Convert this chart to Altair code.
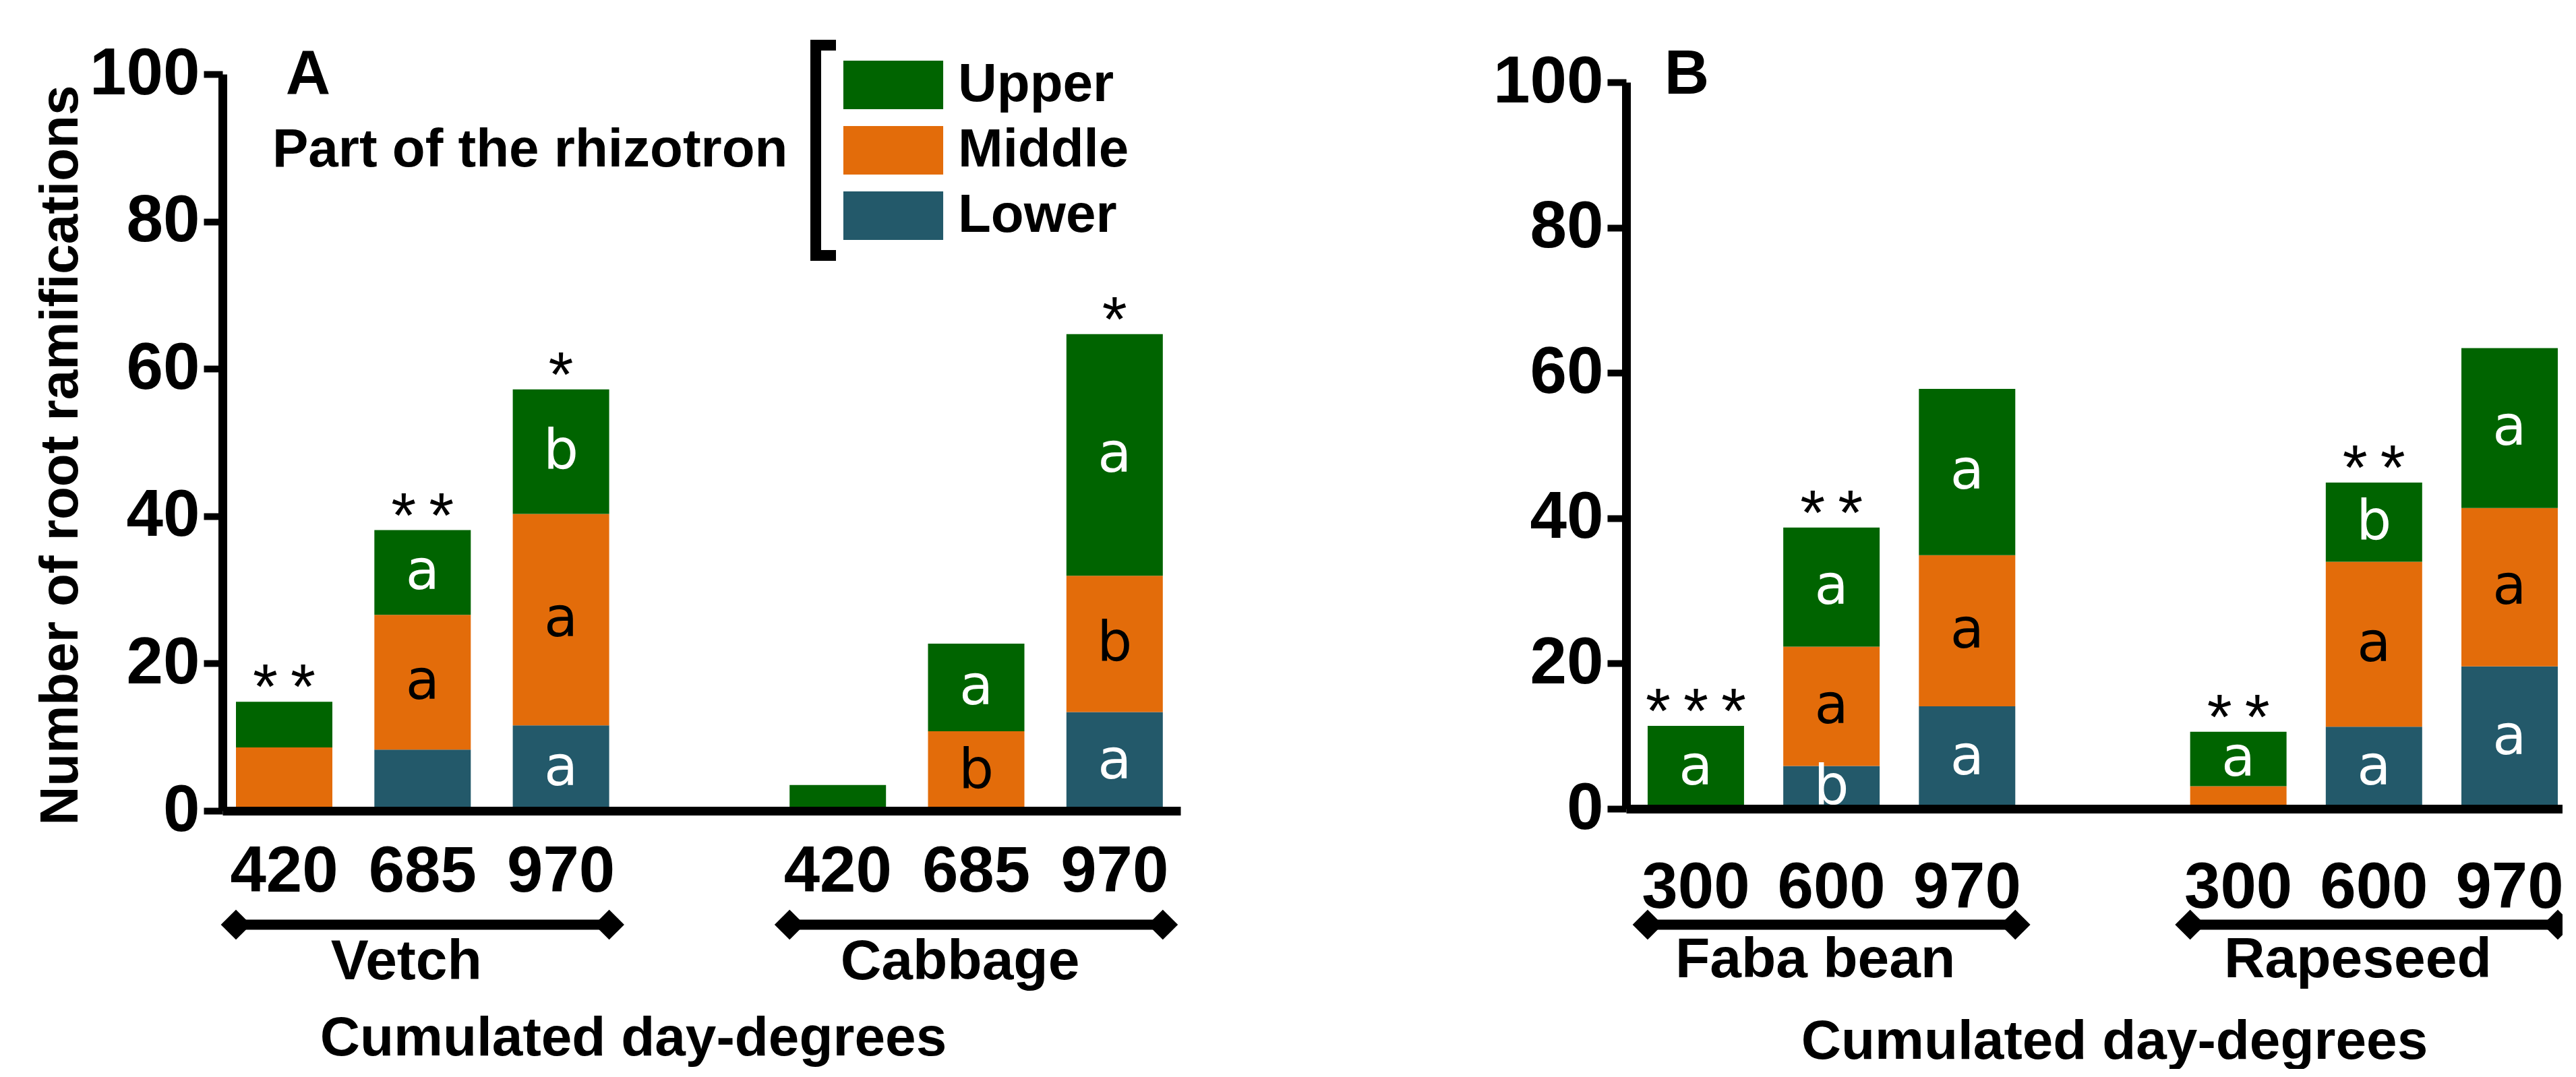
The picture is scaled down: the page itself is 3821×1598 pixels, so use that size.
import altair as alt
import pandas as pd

FONT = "Liberation Sans"
LETTER_FONT = "DejaVu Sans"

PARTS = ["Upper", "Middle", "Lower"]
PART_COLORS = ["#006400", "#E36C0A", "#23596A"]

# ---------------- Panel A ----------------
A_GROUPS = ["Vetch", "Cabbage"]
A_DD = ["420", "685", "970"]
A_UPPER = [6.2, 11.5, 16.9, 3.5, 11.9, 32.8]
A_MIDDLE = [8.6, 18.3, 28.7, 0.0, 10.8, 18.5]
A_LOWER = [0.0, 8.3, 11.6, 0.0, 0.0, 13.4]
A_LET_UPPER = ["", "a", "b", "", "a", "a"]
A_LET_MIDDLE = ["", "a", "a", "", "b", "b"]
A_LET_LOWER = ["", "", "a", "", "", "a"]
A_STARS = ["*\u2009*", "*\u2009*", "*", "", "", "*"]

# ---------------- Panel B ----------------
B_GROUPS = ["Faba bean", "Rapeseed"]
B_DD = ["300", "600", "970"]
B_UPPER = [11.4, 16.4, 22.9, 7.5, 10.9, 22.0]
B_MIDDLE = [0.0, 16.4, 20.8, 3.1, 22.7, 21.8]
B_LOWER = [0.0, 5.9, 14.1, 0.0, 11.3, 19.6]
B_LET_UPPER = ["a", "a", "a", "a", "b", "a"]
B_LET_MIDDLE = ["", "a", "a", "", "a", "a"]
B_LET_LOWER = ["", "b", "a", "", "a", "a"]
B_STARS = ["*\u2009*\u2009*", "*\u2009*", "", "*\u2009*", "*\u2009*", ""]

Y_TICKS = [0, 20, 40, 60, 80, 100]
X_TITLE = "Cumulated day-degrees"
Y_TITLE = "Number of root ramifications"
LEGEND_TITLE = "Part of the rhizotron"


def frames(groups, dds, upper, middle, lower, lu, lm, ll, stars):
    keys = [f"{g}|{d}" for g in groups for d in dds]
    domain = keys[:3] + ["gap"] + keys[3:]
    rows = []
    for i, k in enumerate(keys):
        for part, vals, lets, rank in (("Lower", lower, ll, 0),
                                       ("Middle", middle, lm, 1),
                                       ("Upper", upper, lu, 2)):
            rows.append(dict(key=k, part=part, value=vals[i], letter=lets[i], rank=rank))
    seg = pd.DataFrame(rows)
    tot = pd.DataFrame({"key": keys, "stars": stars,
                        "total": [u + m + l for u, m, l in zip(upper, middle, lower)]})
    tot = tot[tot["stars"] != ""]
    brk = pd.DataFrame({"group": groups,
                        "first": [keys[0], keys[3]],
                        "mid": [keys[1], keys[4]],
                        "last": [keys[2], keys[5]]})
    return domain, seg, tot, brk


def panel(data, *, width, height, y_range, p_inner, p_outer, align, label_padding,
          bracket_y, group_y, title_x, title_y, letter, letter_xy, y_title, legend):
    domain, seg, tot, brk = frames(*data)
    xs = alt.Scale(domain=domain, paddingInner=p_inner, paddingOuter=p_outer, align=align)
    ys_kw = dict(domain=[0, 100], nice=False, zero=True)
    if y_range is not None:
        ys_kw["range"] = y_range
    ys = alt.Scale(**ys_kw)

    x_axis = alt.Axis(
        title=X_TITLE, titleFont=FONT, titleFontSize=82, titleFontWeight="bold",
        titleColor="black", titleX=title_x, titleY=title_y, titleBaseline="alphabetic",
        titleAlign="center",
        labelExpr="indexof(datum.value, '|') >= 0 ? split(datum.value, '|')[1] : ''",
        labelFont=FONT, labelFontSize=96, labelFontWeight="bold", labelColor="black",
        labelPadding=label_padding, labelAngle=0, labelLimit=1000, labelOverlap=False,
        ticks=False, domainColor="black", domainWidth=13, zindex=1)
    y_kw = dict(values=Y_TICKS, labelFont=FONT, labelFontSize=98, labelFontWeight="bold",
                labelColor="black", labelPadding=6, labelLimit=1000, tickSize=28,
                tickWidth=10, tickColor="black", domainColor="black", domainWidth=13,
                grid=False, zindex=1, labelOverlap=False)
    if y_title:
        y_kw.update(title=y_title, titleFont=FONT, titleFontSize=80, titleFontWeight="bold",
                    titleColor="black", titleX=-216, titleY=565, titleBaseline="alphabetic",
                    titleAlign="center")
    else:
        y_kw.update(title="")
    y_axis = alt.Axis(**y_kw)

    stacked = alt.Chart(seg).transform_stack(
        stack="value", groupby=["key"], sort=[alt.SortField("rank", order="ascending")],
        as_=["v0", "v1"]
    ).transform_calculate(mid="(datum.v0 + datum.v1) / 2")

    color = alt.Color("part:N", scale=alt.Scale(domain=PARTS, range=PART_COLORS),
                      legend=legend)
    bars = stacked.mark_bar().encode(
        x=alt.X("key:N", scale=xs, axis=x_axis),
        y=alt.Y("v0:Q", scale=ys, axis=y_axis),
        y2="v1:Q",
        color=color,
    )
    letters = stacked.transform_filter("datum.letter != ''").mark_text(
        font=LETTER_FONT, fontSize=82, baseline="middle", align="center"
    ).encode(
        x=alt.X("key:N", scale=xs, axis=x_axis),
        y=alt.Y("mid:Q", scale=ys, axis=y_axis),
        text="letter:N",
        color=alt.condition("datum.part == 'Middle'", alt.value("black"), alt.value("white")),
    )
    star_layer = alt.Chart(tot).mark_text(
        font=FONT, fontSize=95, baseline="alphabetic", align="center", dy=10, color="black"
    ).encode(
        x=alt.X("key:N", scale=xs, axis=x_axis),
        y=alt.Y("total:Q", scale=ys, axis=y_axis),
        text="stars:N",
    )
    rule = alt.Chart(brk).mark_rule(color="black", strokeWidth=15).encode(
        x=alt.X("first:N", scale=xs, axis=x_axis, bandPosition=0),
        x2=alt.X2("last", bandPosition=1),
        y=alt.value(bracket_y),
    )
    diamond = "M0,-1L1,0L0,1L-1,0Z"
    d_left = alt.Chart(brk).mark_point(shape=diamond, filled=True, size=2000, color="black",
                                       opacity=1).encode(
        x=alt.X("first:N", scale=xs, axis=x_axis, bandPosition=0),
        y=alt.value(bracket_y),
    )
    d_right = alt.Chart(brk).mark_point(shape=diamond, filled=True, size=2000, color="black",
                                        opacity=1).encode(
        x=alt.X("last:N", scale=xs, axis=x_axis, bandPosition=1),
        y=alt.value(bracket_y),
    )
    gnames = alt.Chart(brk).mark_text(
        font=FONT, fontSize=84, fontWeight="bold", baseline="alphabetic", align="center",
        dx=-24, color="black"
    ).encode(
        x=alt.X("mid:N", scale=xs, axis=x_axis),
        y=alt.value(group_y),
        text="group:N",
    )
    plabel = alt.Chart(pd.DataFrame({"t": [letter]})).mark_text(
        font=FONT, fontSize=92, fontWeight="bold", baseline="middle", align="center",
        color="black"
    ).encode(text="t:N", x=alt.value(letter_xy[0]), y=alt.value(letter_xy[1]))

    layers = [bars, letters, star_layer, rule, d_left, d_right, gnames, plabel]
    if legend is not None:
        one = pd.DataFrame({"r": [0]})
        lb_v = alt.Chart(one).mark_rule(color="black", strokeWidth=16).encode(
            x=alt.value(880), y=alt.value(-51), y2=alt.value(277))
        lb_t = alt.Chart(one).mark_rule(color="black", strokeWidth=16).encode(
            x=alt.value(872), x2=alt.value(910), y=alt.value(-43))
        lb_b = alt.Chart(one).mark_rule(color="black", strokeWidth=16).encode(
            x=alt.value(872), x2=alt.value(910), y=alt.value(269))
        layers += [lb_v, lb_t, lb_b]
    return alt.layer(*layers).properties(width=width, height=height)


legend_a = alt.Legend(
    orient="none", legendX=74, legendY=-24, direction="vertical",
    title=LEGEND_TITLE, titleOrient="left", titleAnchor="middle", titleBaseline="middle",
    titleFont=FONT, titleFontSize=80, titleFontWeight="bold", titleColor="black",
    titlePadding=84, titleLimit=2000,
    labelFont=FONT, labelFontSize=80, labelFontWeight="bold", labelColor="black",
    labelOffset=56, labelLimit=1000,
    symbolType="M-2.057,-1L2.057,-1L2.057,1L-2.057,1Z", symbolSize=5184,
    symbolStrokeWidth=0, symbolOffset=32, symbolOpacity=1,
    rowPadding=17, padding=0,
)

panel_a = panel(
    (A_GROUPS, A_DD, A_UPPER, A_MIDDLE, A_LOWER, A_LET_UPPER, A_LET_MIDDLE, A_LET_LOWER, A_STARS),
    width=1421, height=1093, y_range=None, p_inner=0.3035, p_outer=0.1125, align=0.433,
    label_padding=43, bracket_y=1262, group_y=1343, title_x=609, title_y=362,
    letter="A", letter_xy=(127, 1), y_title=Y_TITLE, legend=legend_a,
)
panel_b = panel(
    (B_GROUPS, B_DD, B_UPPER, B_MIDDLE, B_LOWER, B_LET_UPPER, B_LET_MIDDLE, B_LET_LOWER, B_STARS),
    width=1401, height=1090, y_range=[1090, 12], p_inner=0.2893, p_outer=0.1267, align=0.627,
    label_padding=70, bracket_y=1262, group_y=1340, title_x=724, title_y=370,
    letter="B", letter_xy=(90, 1), y_title=None, legend=None,
)

chart = alt.hconcat(panel_a, panel_b, spacing=463).resolve_scale(
    color="independent"
).properties(
    padding={"left": 41, "top": 43, "right": -16, "bottom": 0},
    background="white",
).configure_view(stroke=None)

chart.save("out.html", embed_options={"renderer": "svg", "actions": False})
